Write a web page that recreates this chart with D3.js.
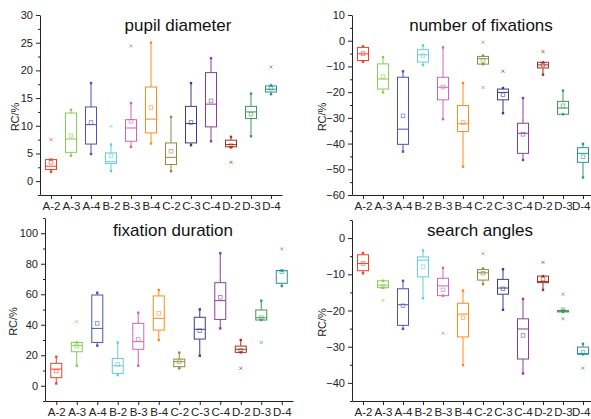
<!DOCTYPE html>
<html>
<head>
<meta charset="utf-8">
<script src="https://cdn.jsdelivr.net/npm/d3@7"></script>
<style>
  body { margin: 0; background: #fff; }
  svg { display: block; font-family: Arial, "Liberation Sans", sans-serif; }
  .axis path, .axis line { stroke: #222; }
  .axis text { fill: #222; font-size: 11px; }
</style>
</head>
<body>
<div id="chart"></div>
<script>
// categories shared by all four panels
var categories = ["A-2", "A-3", "A-4", "B-2", "B-3", "B-4", "C-2", "C-3", "C-4", "D-2", "D-3", "D-4"];
var boxColors = ["#f0412d", "#88cc55", "#4b55b5", "#66ccdd", "#cc66bb", "#ff8c1a",
                 "#8c8c40", "#3d3d8f", "#8c3d99", "#a33320", "#3f9955", "#2a9494"];

// each row: [lower whisker, Q1, median, Q3, upper whisker, mean]
var pupilStats = [
  [1.7, 2.1, 2.7, 3.9, 3.9, 3.4], [4.6, 5.2, 7.6, 12.3, 12.9, 8.2], [4.9, 6.7, 10.2, 13.4, 17.7, 10.6],
  [1.8, 3.2, 3.5, 5.1, 6.6, 4.6], [6.2, 7.2, 9.6, 11.1, 14.1, 10.8], [6.8, 8.7, 11.2, 17.0, 25.0, 13.3],
  [1.8, 3.0, 4.3, 6.9, 11.6, 5.4], [6.5, 6.9, 10.4, 13.5, 17.7, 10.6], [7.2, 9.8, 13.9, 19.6, 22.2, 14.5],
  [6.1, 6.2, 6.6, 7.4, 8.0, 6.4], [8.1, 11.3, 12.5, 13.5, 15.8, 12.1], [15.7, 16.1, 16.6, 17.2, 17.3, 16.8]
];
var pupilOutliers = [[7.5], [], [], [9.9], [24.4], [], [], [], [], [3.4], [], [20.6]];

var fixCountStats = [
  [-8.2, -7.7, -5.1, -2.6, -2.2, -5.0], [-20.1, -18.8, -14.9, -9.0, -6.4, -13.9], [-43.1, -40.3, -34.4, -14.2, -11.9, -29.2],
  [-9.5, -8.3, -5.5, -3.5, -1.8, -5.8], [-30.5, -23.0, -18.1, -14.2, -2.6, -18.0], [-49.0, -35.3, -32.3, -25.2, -16.5, -31.8],
  [-9.1, -9.1, -7.0, -6.1, -5.8, -7.7], [-28.2, -23.0, -20.1, -18.8, -18.4, -21.0], [-46.4, -43.8, -36.0, -32.1, -22.3, -36.4],
  [-13.2, -10.6, -9.4, -8.4, -8.4, -9.4], [-28.6, -28.6, -26.2, -23.6, -19.4, -25.3], [-53.2, -47.3, -43.8, -41.6, -40.1, -45.1]
];
var fixCountOutliers = [[], [], [], [], [], [], [-0.6, -18.2], [-11.9], [], [-4.2], [], []];

var durationStats = [
  [1.5, 5.3, 10.9, 14.7, 19.0, 9.6], [13.1, 22.3, 26.3, 28.4, 28.4, 26.0], [26.3, 28.4, 37.6, 59.5, 61.0, 40.9],
  [7.0, 8.1, 13.1, 17.9, 28.4, 14.0], [13.1, 23.9, 28.9, 40.9, 47.9, 30.4], [30.0, 36.5, 44.2, 58.9, 62.8, 47.5],
  [11.4, 12.5, 15.8, 17.5, 21.7, 15.8], [19.7, 30.6, 37.0, 44.9, 50.1, 36.1], [37.6, 43.5, 55.8, 67.6, 86.9, 58.0],
  [21.9, 21.9, 23.9, 26.0, 30.0, 23.0], [43.1, 43.1, 44.6, 49.7, 55.8, 44.6], [65.4, 67.2, 75.5, 75.5, 75.5, 74.8]
];
var durationOutliers = [[], [42], [], [], [], [], [], [], [], [11.4], [28.4], [89.7]];

var angleStats = [
  [-9.7, -9.0, -7.0, -4.6, -4.1, -7.0], [-13.7, -13.7, -13.0, -11.8, -11.8, -13.4], [-25.1, -24.1, -18.4, -14.0, -11.8, -18.7],
  [-16.6, -10.7, -6.1, -5.2, -3.4, -7.9], [-15.9, -15.9, -13.2, -11.1, -8.2, -14.3], [-35.1, -27.3, -21.0, -18.0, -14.5, -22.0],
  [-12.7, -11.6, -9.6, -8.7, -8.4, -9.7], [-19.8, -15.5, -13.8, -11.4, -8.6, -14.0], [-37.4, -33.4, -25.1, -22.3, -16.8, -26.9],
  [-14.3, -12.3, -12.0, -10.5, -10.5, -11.3], [-20.4, -20.4, -20.2, -20.0, -20.0, -19.8], [-32.1, -32.1, -31.9, -30.1, -29.2, -31.6]
];
var angleOutliers = [[], [-17.2], [], [], [-26.3], [], [-4.3], [], [], [-6.7], [-15.5, -22.3], [-35.9]];

var W = 591, H = 419;
var svg = d3.select("#chart").append("svg").attr("width", W).attr("height", H);

// layout of the four panels (pixel frames)
var panels = [
  { title: "pupil diameter", stats: pupilStats, outliers: pupilOutliers,
    x0: 40, step: 20, yDomain: [-2.5, 30], yRange: [195, 15], major: 5, titleX: 178, titleY: 31, labelX: 15 },
  { title: "number of fixations", stats: fixCountStats, outliers: fixCountOutliers,
    x0: 352, step: 20, yDomain: [-60, 10], yRange: [195, 15], major: 10, titleX: 481, titleY: 31, labelX: 322 },
  { title: "fixation duration", stats: durationStats, outliers: durationOutliers,
    x0: 45, step: 20.5, yDomain: [-10, 110], yRange: [401, 218], major: 20, titleX: 173, titleY: 236, labelX: 13 },
  { title: "search angles", stats: angleStats, outliers: angleOutliers,
    x0: 352, step: 20, yDomain: [-45, 5], yRange: [401, 220], major: 10, titleX: 480, titleY: 236, labelX: 322 }
];

var boxW = 11;

panels.forEach(function (p) {
  var xScale = d3.scaleLinear()
    .domain([0.45, 12.55])
    .range([p.x0, p.x0 + 12.1 * p.step]);
  var yScale = d3.scaleLinear()
    .domain(p.yDomain)
    .range(p.yRange);

  var g = svg.append("g");

  // minor ticks first, then major axis on top
  var minorVals = d3.range(Math.ceil(p.yDomain[0] / (p.major / 2)) * (p.major / 2), p.yDomain[1] + 0.001, p.major / 2)
    .filter(function (v) { return Math.abs(v / p.major - Math.round(v / p.major)) > 0.01; });
  g.append("g")
    .attr("class", "axis")
    .attr("transform", "translate(" + p.x0 + ",0)")
    .call(d3.axisLeft(yScale).tickValues(minorVals).tickSize(2).tickFormat(""))
    .select(".domain").remove();

  var majorVals = d3.range(Math.ceil(p.yDomain[0] / p.major) * p.major, p.yDomain[1] + 0.001, p.major);
  g.append("g")
    .attr("class", "axis")
    .attr("transform", "translate(" + p.x0 + ",0)")
    .call(d3.axisLeft(yScale).tickValues(majorVals).tickSize(4).tickSizeOuter(0).tickPadding(3));

  var xAxis = g.append("g")
    .attr("class", "axis")
    .attr("transform", "translate(0," + p.yRange[0] + ")")
    .call(d3.axisBottom(xScale)
      .tickValues(d3.range(1, 13))
      .tickFormat(function (d) { return categories[d - 1]; })
      .tickSize(4).tickSizeOuter(0).tickPadding(3));
  xAxis.selectAll("text").style("font-size", "11.5px");
  // keep the last label inside the page (the reference crops it at the edge)
  xAxis.selectAll("text").filter(function (d) { return xScale(d) + 10 > W; })
    .attr("text-anchor", "end")
    .attr("x", function (d) { return W - 1 - xScale(d); });

  // y-axis label
  g.append("text")
    .attr("transform", "translate(" + p.labelX + "," + ((p.yRange[0] + p.yRange[1]) / 2 + 12) + ") rotate(-90)")
    .attr("text-anchor", "middle")
    .attr("dy", "0.35em")
    .style("font-size", "11px")
    .attr("fill", "#222")
    .text("RC/%");

  // title
  g.append("text")
    .attr("x", p.titleX)
    .attr("y", p.titleY)
    .attr("text-anchor", "middle")
    .style("font-size", "17px")
    .attr("fill", "#111")
    .text(p.title);

  var boxes = g.selectAll(".box")
    .data(p.stats)
    .enter().append("g")
    .attr("class", "box")
    .attr("transform", function (d, i) { return "translate(" + xScale(i + 1) + ",0)"; })
    .attr("stroke", function (d, i) { return boxColors[i]; })
    .attr("fill", "none");

  // whiskers
  boxes.append("line")
    .attr("x1", 0).attr("x2", 0)
    .attr("y1", function (d) { return yScale(d[0]); })
    .attr("y2", function (d) { return yScale(d[1]); });
  boxes.append("line")
    .attr("x1", 0).attr("x2", 0)
    .attr("y1", function (d) { return yScale(d[3]); })
    .attr("y2", function (d) { return yScale(d[4]); });

  // box
  boxes.append("rect")
    .attr("x", -boxW / 2)
    .attr("width", boxW)
    .attr("y", function (d) { return yScale(d[3]); })
    .attr("height", function (d) { return Math.max(1, yScale(d[1]) - yScale(d[3])); })
    .attr("fill", "#fff");

  // median
  boxes.append("line")
    .attr("x1", -boxW / 2).attr("x2", boxW / 2)
    .attr("y1", function (d) { return yScale(d[2]); })
    .attr("y2", function (d) { return yScale(d[2]); });

  // whisker end markers
  [0, 4].forEach(function (k) {
    boxes.append("rect")
      .attr("x", -1.2).attr("width", 2.4).attr("height", 2.4)
      .attr("y", function (d) { return yScale(d[k]) - 1.2; })
      .attr("fill", function (d, i) { return boxColors[i]; })
      .attr("stroke", "none");
  });

  // mean
  boxes.append("rect")
    .attr("x", -1.8).attr("width", 3.6).attr("height", 3.6)
    .attr("y", function (d) { return yScale(d[5]) - 1.8; })
    .attr("stroke-width", 0.8)
    .attr("opacity", 0.7);

  // outliers (x markers)
  boxes.each(function (d, i) {
    d3.select(this).selectAll(".out")
      .data(p.outliers[i])
      .enter().append("path")
      .attr("d", function (v) {
        var y = yScale(v);
        return "M-1.5," + (y - 1.5) + "L1.5," + (y + 1.5) + "M-1.5," + (y + 1.5) + "L1.5," + (y - 1.5);
      })
      .attr("stroke-width", 0.9)
      .attr("opacity", 0.75);
  });
});
</script>
</body>
</html>
